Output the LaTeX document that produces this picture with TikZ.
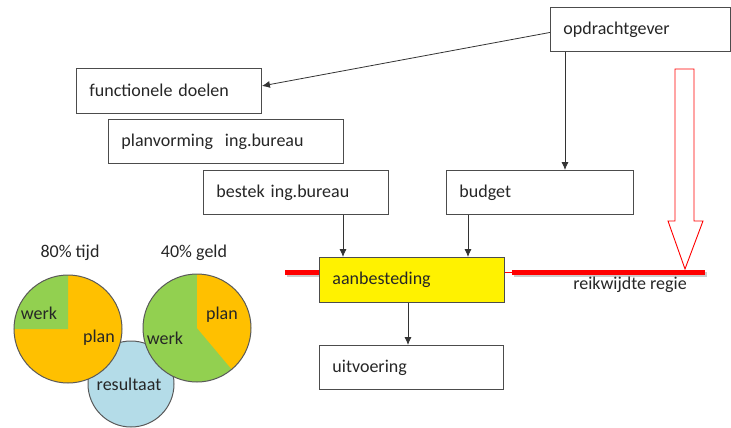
\documentclass[tikz,border=0pt]{standalone}
\usepackage{fontspec}
\setmainfont{Carlito}
\usetikzlibrary{arrows.meta,calc}
\definecolor{pieorange}{HTML}{FFC000}
\definecolor{piegreen}{HTML}{92D050}
\definecolor{pieblue}{HTML}{B4DCE8}
\definecolor{regiered}{HTML}{FF0000}
\tikzset{
  txt/.style={font=\fontsize{18}{21}\selectfont, text=black!85, inner sep=0pt},
  box/.style={draw=black!70, line width=0.9pt, fill=white, anchor=north west,
    inner xsep=13pt, inner ysep=0pt, align=left,
    font=\fontsize{18}{21}\selectfont, text=black!85},
  arr/.style={draw=black!80, line width=0.8pt, -{Latex[length=8pt,width=7pt]}},
  pieline/.style={draw=black!65, line width=1pt},
}
\newcommand{\mybox}[6][white]{%
  \node[box, fill=#1, minimum width=#5pt, minimum height=#6pt, text width=#5pt-26pt] (#2) at #3 {\raisebox{2pt}{#4}};}
\begin{document}
\begin{tikzpicture}[x=1pt,y=1pt]
\useasboundingbox (0,0) rectangle (731,-428);
% boxes
\mybox{opd}{(550,-7)}{opdrachtgever}{180}{44}
\mybox{fd}{(76,-68)}{functionele doelen}{185}{45}
\mybox{pv}{(108,-119)}{planvorming\ \ ing.bureau}{235}{44}
\mybox{bestek}{(203,-170)}{bestek ing.bureau}{185}{44}
\mybox{budget}{(446,-170)}{budget}{187}{44}
% red line (behind aanbesteding)
\coordinate (rlA) at (285,-272);
\coordinate (rlB) at (512,-272);
\coordinate (rlC) at (705,-272);
\draw[black!20, line width=5pt] ([shift={(1.5,-2.5)}]rlA) -- ([shift={(1.5,-2.5)}]rlA -| 330,0);
\draw[black!20, line width=5pt] ([shift={(1.5,-2.5)}]rlB) -- ([shift={(1.5,-2.5)}]rlC);
\draw[regiered, line width=5pt] (rlA) -- (330,-272);
\mybox[yellow]{aanb}{(319,-257)}{aanbesteding}{185}{45}
\mybox{uitv}{(319,-345)}{uitvoering}{184}{44}
\draw[regiered, line width=0.6pt] (aanb.east |- rlB) -- (rlB);
\draw[regiered, line width=5pt] (rlB) -- (rlC);
\node[txt] (regie) at (630,-285) {reikwijdte regie};
% hollow red arrow
\draw[regiered, line width=0.9pt, fill=white] (675,-69) -- (694,-69) -- (694,-221) -- (703,-221) -- (685,-269) -- (668,-221) -- (675,-221) -- cycle;
% connectors
\draw[arr] ([yshift=-3pt]opd.west) -- ([yshift=5pt]fd.east);
\draw[arr] ([xshift=15pt]opd.south west) -- ([xshift=15pt]opd.south west |- budget.north);
\draw[arr] ([xshift=24pt]aanb.north west |- bestek.south) -- ([xshift=24pt]aanb.north west);
\draw[arr] ([xshift=22pt]budget.south west) -- ([xshift=22pt]budget.south west |- aanb.north);
\draw[arr] ([xshift=89pt]aanb.south west) -- ([xshift=89pt]aanb.south west |- uitv.north);
% circles
\coordinate (cres) at (131,-384);
\coordinate (ctijd) at (68,-329);
\coordinate (cgeld) at (197,-328);
\fill[pieblue] (cres) circle (43);
\draw[pieline] (cres) circle (43);
\fill[pieorange] (ctijd) circle (54);
\fill[piegreen] (ctijd) -- ++(90:54) arc (90:180:54) -- cycle;
\draw[pieline] (ctijd) circle (54);
\fill[piegreen] (cgeld) circle (54);
\fill[pieorange] (cgeld) -- ++(-50:54) arc (-50:90:54) -- cycle;
\draw[pieline] (cgeld) circle (54);
\node[txt] (tijd) at (70,-253) {80\% tijd};
\node[txt] (geld) at (194,-253) {40\% geld};
\node[txt] (werk1) at (39,-313) {werk};
\node[txt] (plan1) at (99,-338) {plan};
\node[txt] (werk2) at (165,-338) {werk};
\node[txt] (plan2) at (222,-315) {plan};
\node[txt] (res) at (129,-384) {resultaat};
\end{tikzpicture}
\end{document}
